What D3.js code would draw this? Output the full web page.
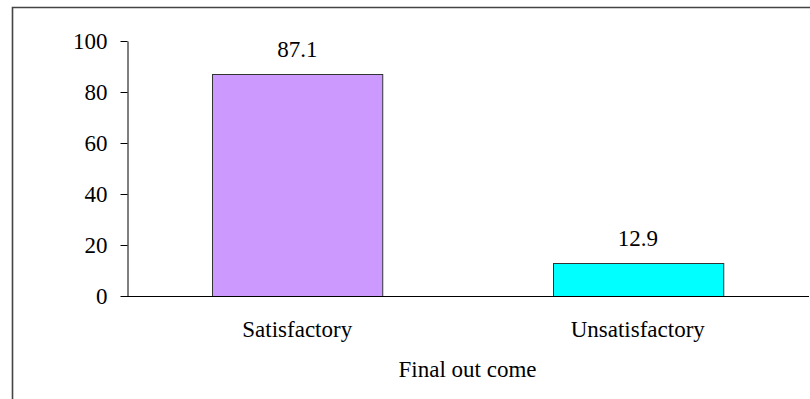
<!DOCTYPE html>
<html>
<head>
<meta charset="utf-8">
<script src="https://cdn.jsdelivr.net/npm/d3@7"></script>
<style>
  body { margin: 0; background: #fff; }
  svg text { font-family: "Liberation Serif", "Times New Roman", serif !important; fill: #000; }
</style>
</head>
<body>
<div id="chart"></div>
<script>
const categories = ['Satisfactory', 'Unsatisfactory']
const values = [87.1, 12.9]
const colors = ['#cc99ff', '#00ffff']
const yTicks = [0, 20, 40, 60, 80, 100]
const xTitle = 'Final out come'

const width = 810
const height = 399
const plotLeft = 127
const plotRight = 809
const plotTop = 41
const plotBottom = 296
const fontSize = 23

const svg = d3.select('#chart')
  .append('svg')
  .attr('width', width)
  .attr('height', height)

// outer frame (only left and top edges fall inside the picture)
svg.append('path')
  .attr('d', `M12.5,${height + 5} L12.5,7.5 L${width + 5},7.5`)
  .attr('fill', 'none')
  .attr('stroke', '#444')
  .attr('stroke-width', 1.6)

const x = d3.scaleBand()
  .domain(categories)
  .range([plotLeft, plotRight - 1])
  .paddingInner(0.5)
  .paddingOuter(0.25)

const y = d3.scaleLinear()
  .domain([0, 100])
  .range([plotBottom, plotTop])

// y axis
const yAxis = d3.axisLeft(y)
  .tickValues(yTicks)
  .tickSize(7)
  .tickSizeOuter(0)
  .tickPadding(13)
svg.append('g')
  .attr('transform', `translate(${plotLeft + 0.5}, 0)`)
  .call(yAxis)
  .attr('font-family', null)
  .attr('font-size', null)
  .call(g => g.selectAll('text').style('font-size', fontSize + 'px'))
  .call(g => g.selectAll('line, path').attr('stroke', '#000'))

// bars
svg.append('g')
  .selectAll('rect')
  .data(values)
  .join('rect')
  .attr('x', (d, i) => Math.round(x(categories[i])) + 0.5)
  .attr('y', d => Math.round(y(d)) + 0.5)
  .attr('width', x.bandwidth())
  .attr('height', d => y(0) - Math.round(y(d)))
  .attr('fill', (d, i) => colors[i])
  .attr('stroke', '#333')
  .attr('stroke-width', 1)

// value labels
svg.append('g')
  .selectAll('text')
  .data(values)
  .join('text')
  .attr('x', (d, i) => x(categories[i]) + x.bandwidth() / 2)
  .attr('y', d => y(d) - 17)
  .attr('text-anchor', 'middle')
  .style('font-size', fontSize + 'px')
  .text(d => d.toFixed(1))

// x axis baseline
svg.append('line')
  .attr('x1', plotLeft)
  .attr('x2', plotRight)
  .attr('y1', plotBottom + 0.5)
  .attr('y2', plotBottom + 0.5)
  .attr('stroke', '#000')

// category labels
svg.append('g')
  .selectAll('text')
  .data(categories)
  .join('text')
  .attr('x', d => x(d) + x.bandwidth() / 2)
  .attr('y', 337)
  .attr('text-anchor', 'middle')
  .style('font-size', fontSize + 'px')
  .text(d => d)

// x title
svg.append('text')
  .attr('x', (x(categories[0]) + x(categories[1]) + x.bandwidth()) / 2)
  .attr('y', 377)
  .attr('text-anchor', 'middle')
  .style('font-size', fontSize + 'px')
  .text(xTitle)
</script>
</body>
</html>
